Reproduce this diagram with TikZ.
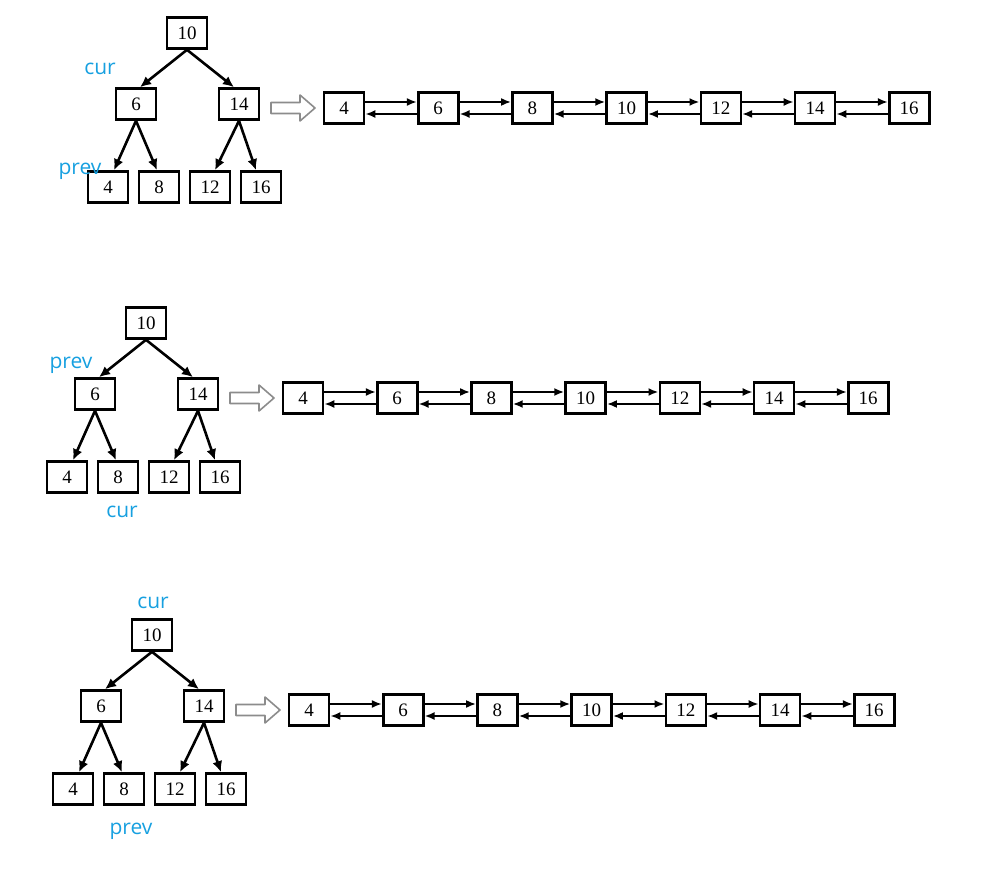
\documentclass[tikz,border=0pt]{standalone}
\usepackage{fontspec}
\newfontfamily\ptrfont{Open Sans}
\newfontfamily\keyfont{Liberation Serif}
\usetikzlibrary{arrows.meta,positioning,calc}
\definecolor{PtrBlue}{RGB}{23,160,224}
\definecolor{HollowGray}{RGB}{140,140,140}

\tikzset{
  box/.style={draw, line width=2.6pt, minimum width=40pt, minimum height=31pt, inner sep=0pt, font=\keyfont\fontsize{19}{19}\selectfont},
  treeedge/.style={-{Latex[length=11pt,width=10pt]}, line width=2.6pt},
  link/.style={-{Latex[length=10pt,width=8pt]}, line width=2pt},
  hollow/.style={draw=HollowGray, fill=white, line width=1.6pt, line join=round},
  ptr/.style={text=PtrBlue, anchor=base, inner sep=0pt, font=\ptrfont\fontsize{21}{21}\selectfont},
}

% one panel: tree on the left, list on the right (origin = root node)
\newcommand{\drawBstPanel}{%
  \node[box] (t10) at (0,0) {10};
  \node[box] (t6) at (-51,71) {6};
  \node[box] (t14) at (52,71) {14};
  \node[box] (t4) at (-79,154) {4};
  \node[box] (t8) at (-28,154) {8};
  \node[box] (t12) at (23,154) {12};
  \node[box] (t16) at (74,154) {16};
  \draw[treeedge] (t10.south) -- ([xshift=4pt]t6.north);
  \draw[treeedge] (t10.south) -- ([xshift=-5pt]t14.north);
  \draw[treeedge] (t6.south) -- ([xshift=6pt]t4.north);
  \draw[treeedge] (t6.south) -- ([xshift=-2pt]t8.north);
  \draw[treeedge] (t14.south) -- ([xshift=5pt]t12.north);
  \draw[treeedge] (t14.south) -- ([xshift=-5pt]t16.north);
  % hollow arrow
  \draw[hollow] (84,69.5) -- (113,69.5) -- (113,62) -- (128,75) -- (113,88) -- (113,80.5) -- (84,80.5) -- cycle;
  % doubly linked list
  \foreach \v [count=\i] in {4,6,8,10,12,14,16}
    \node[box] (l\i) at ({157+94.2*(\i-1)},75) {\v};
  \foreach \i [evaluate=\i as \j using int(\i+1)] in {1,...,6} {
    \draw[link] ([yshift=6pt]l\i.east) -- ([yshift=6pt]l\j.west);
    \draw[link] ([yshift=-6pt]l\j.west) -- ([yshift=-6pt]l\i.east);
  }
}

\begin{document}
\begin{tikzpicture}[x=1pt,y=-1pt]
  \useasboundingbox (0,0) rectangle (994,882);

  \begin{scope}[shift={(187,33)}]
    \drawBstPanel
    \node[ptr] (cur1) at (-87,42) {cur};
    \node[ptr] (prev1) at (-107,142) {prev};
  \end{scope}

  \begin{scope}[shift={(146,323)}]
    \drawBstPanel
    \node[ptr] (prev2) at (-75,46) {prev};
    \node[ptr] (cur2) at (-24,195) {cur};
  \end{scope}

  \begin{scope}[shift={(152,635)}]
    \drawBstPanel
    \node[ptr] (cur3) at (1,-27) {cur};
    \node[ptr] (prev3) at (-21,199) {prev};
  \end{scope}
\end{tikzpicture}
\end{document}
